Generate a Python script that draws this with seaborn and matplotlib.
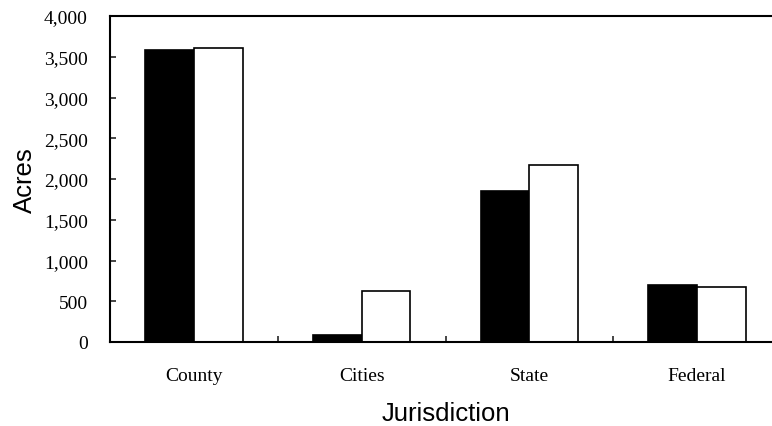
import pandas as pd
import numpy as np
import seaborn as sns
import matplotlib.pyplot as plt
from matplotlib.ticker import FuncFormatter, FixedLocator

# values
jurisdictions = ["County", "Cities", "State", "Federal"]
series_names = ["Series 1", "Series 2"]
acres_first = [3585, 80, 1850, 700]
acres_second = [3610, 630, 2175, 680]

df = pd.DataFrame({
    "Jurisdiction": jurisdictions * 2,
    "Series": [series_names[0]] * 4 + [series_names[1]] * 4,
    "Acres": acres_first + acres_second,
})

sns.set_style("white")

fig = plt.figure(figsize=(7.72, 4.27), dpi=100)
# plot area runs past the right edge of the figure, as in the scan
ax = fig.add_axes([110 / 772, 1 - 343 / 427, 671 / 772, 326 / 427])

sns.barplot(data=df, x="Jurisdiction", y="Acres", hue="Series",
            palette=["black", "white"], edgecolor="black", linewidth=1.2,
            width=0.58, legend=False, ax=ax)

ax.set_xlim(-0.5, 3.5)
ax.set_ylim(0, 4000)
ax.set_yticks(np.arange(0, 4001, 500))
ax.yaxis.set_major_formatter(FuncFormatter(lambda v, p: f"{int(v):,}"))

ax.xaxis.set_minor_locator(FixedLocator([0.5, 1.5, 2.5]))
ax.tick_params(axis="x", which="major", length=0, pad=18)
ax.tick_params(axis="x", which="minor", direction="in", length=4, width=1.2, bottom=True)
ax.tick_params(axis="y", direction="in", length=4, width=1.2, left=True, pad=16)

for lab in ax.get_xticklabels() + ax.get_yticklabels():
    lab.set_family("Liberation Serif")
    lab.set_fontsize(14)
    lab.set_color("black")

ax.set_xlabel("Jurisdiction", family="Liberation Sans", fontsize=18.5,
              color="black", labelpad=12)
ax.set_ylabel("Acres", family="Liberation Sans", fontsize=18.5,
              color="black", labelpad=5)

for side in ["left", "top", "bottom", "right"]:
    ax.spines[side].set_color("black")
    ax.spines[side].set_linewidth(1.5)

fig.savefig("out.png", dpi=100)
